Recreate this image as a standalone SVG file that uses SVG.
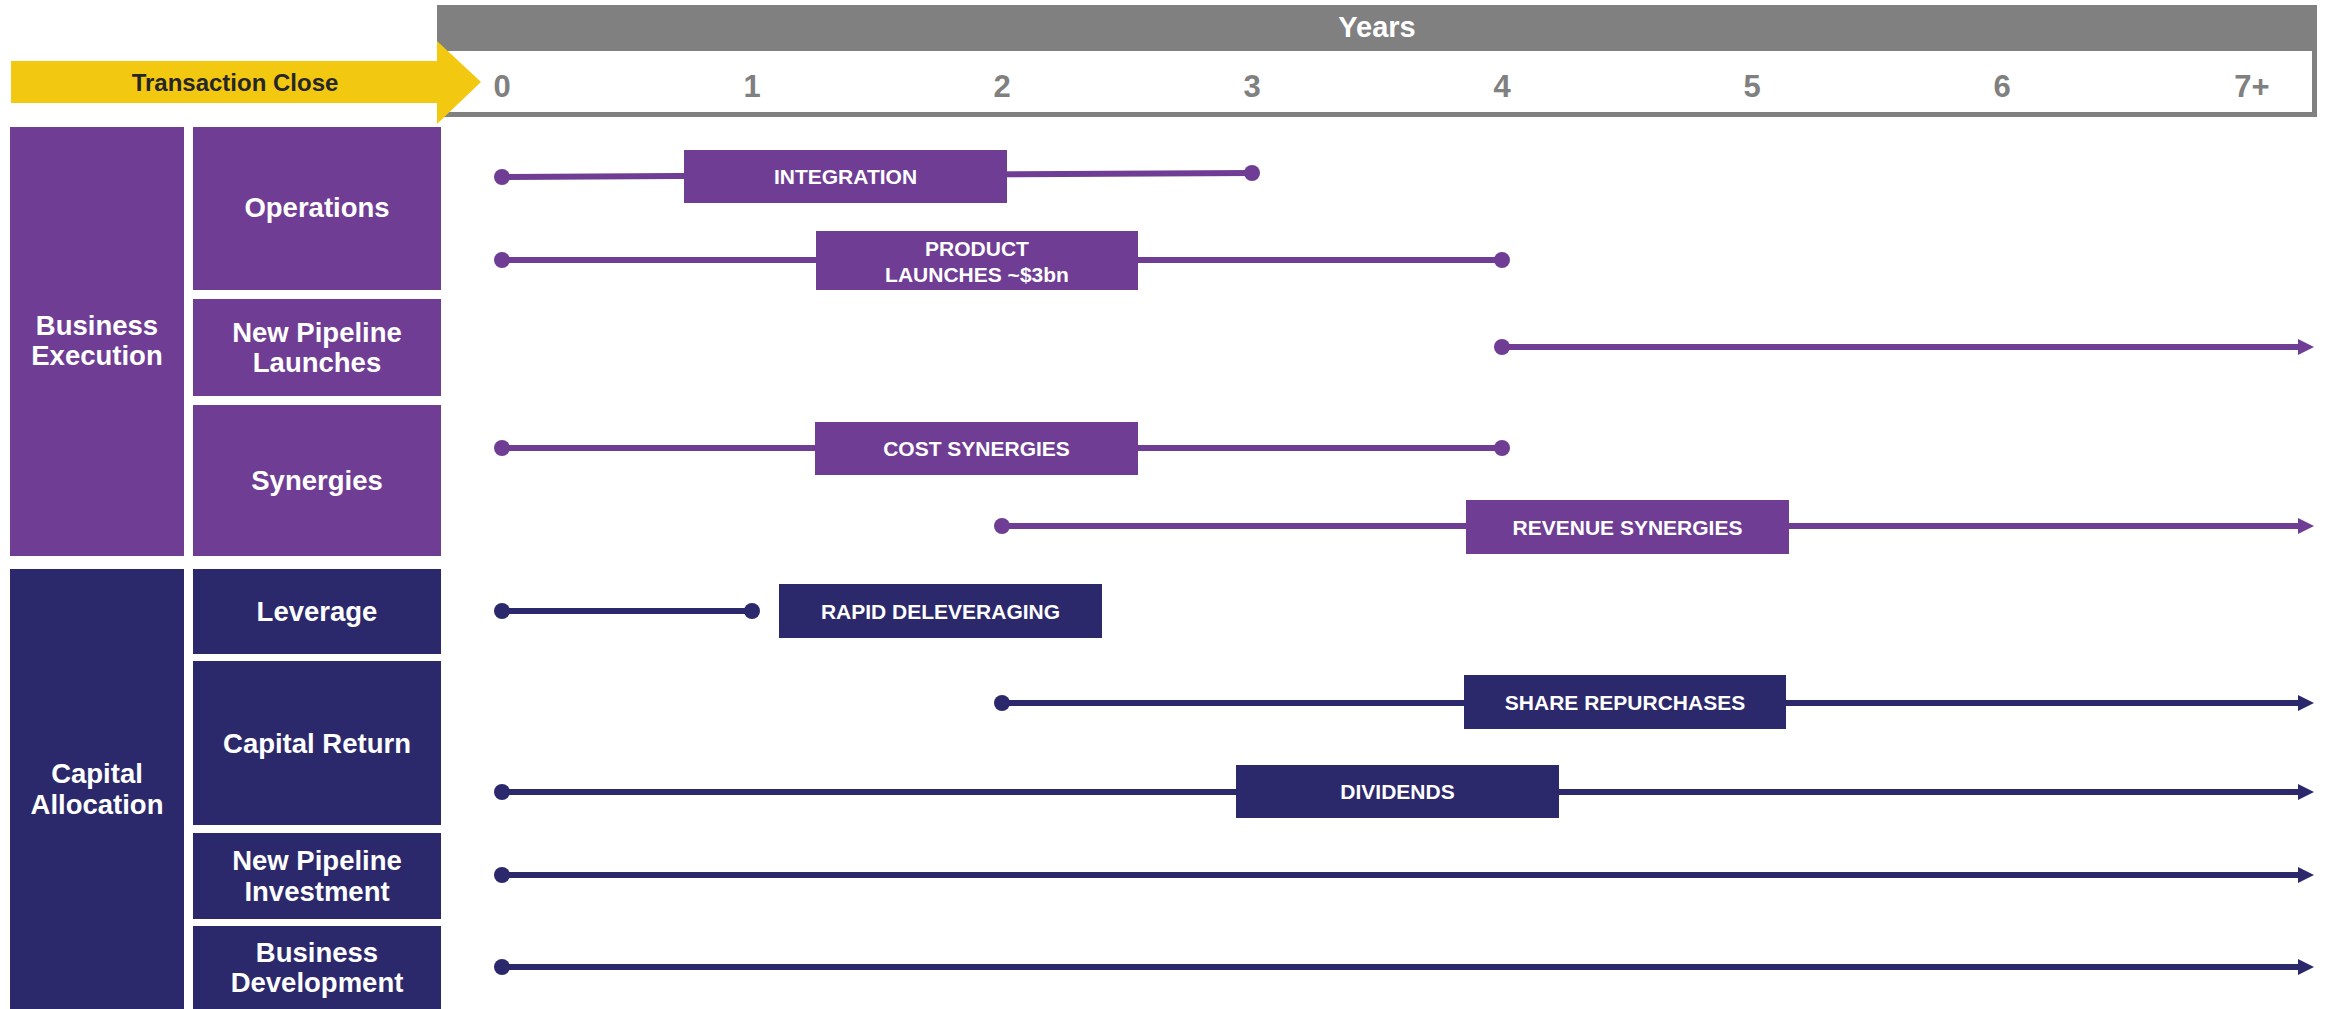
<svg xmlns="http://www.w3.org/2000/svg" width="2329" height="1009" viewBox="0 0 2329 1009">
<style>
  text { font-family: "Liberation Sans", Arial, sans-serif; font-weight: bold; text-anchor: middle; }
  .lbl { fill: #FFFFFF; font-size: 27.5px; }
  .bar { fill: #FFFFFF; font-size: 21px; }
  .yr { fill: #808080; font-size: 31px; }
  .p { fill: #6F3D94; }
  .n { fill: #2B286C; }
  .lp { stroke: #6F3D94; stroke-width: 6; fill: none; }
  .ln { stroke: #2B286C; stroke-width: 6; fill: none; }
</style>
<defs>
  <marker id="dotP" markerUnits="userSpaceOnUse" markerWidth="18" markerHeight="18" refX="9" refY="9" viewBox="0 0 18 18">
    <circle cx="9" cy="9" r="8" fill="#6F3D94"/>
  </marker>
  <marker id="dotN" markerUnits="userSpaceOnUse" markerWidth="18" markerHeight="18" refX="9" refY="9" viewBox="0 0 18 18">
    <circle cx="9" cy="9" r="8" fill="#2B286C"/>
  </marker>
  <marker id="arrP" markerUnits="userSpaceOnUse" markerWidth="16" markerHeight="16" refX="0" refY="8" viewBox="0 0 16 16" orient="auto">
    <path d="M0,0 L16,8 L0,16 Z" fill="#6F3D94"/>
  </marker>
  <marker id="arrN" markerUnits="userSpaceOnUse" markerWidth="16" markerHeight="16" refX="0" refY="8" viewBox="0 0 16 16" orient="auto">
    <path d="M0,0 L16,8 L0,16 Z" fill="#2B286C"/>
  </marker>
</defs>
<rect x="0" y="0" width="2329" height="1009" fill="#FFFFFF"/>

<g id="header">
  <rect x="437" y="5" width="1880" height="112" fill="#808080"/>
  <rect x="437" y="51" width="1875" height="61" fill="#FFFFFF"/>
  <text x="1377" y="37" style="fill:#FFFFFF;font-size:29px">Years</text>
  <text class="yr" x="502" y="97">0</text>
  <text class="yr" x="752" y="97">1</text>
  <text class="yr" x="1002" y="97">2</text>
  <text class="yr" x="1252" y="97">3</text>
  <text class="yr" x="1502" y="97">4</text>
  <text class="yr" x="1752" y="97">5</text>
  <text class="yr" x="2002" y="97">6</text>
  <text class="yr" x="2252" y="97">7+</text>
</g>

<g id="transaction-close">
  <polygon points="11,61 437,61 437,41 481,82 437,124 437,103 11,103" fill="#F2C811"/>
  <text x="235" y="91" style="fill:#262626;font-size:24px">Transaction Close</text>
</g>

<g id="business-execution">
  <rect class="p" x="10" y="127" width="174" height="429"/>
  <text class="lbl" x="97" y="335">Business</text>
  <text class="lbl" x="97" y="365">Execution</text>
</g>
<g id="operations">
  <rect class="p" x="193" y="127" width="248" height="163"/>
  <text class="lbl" x="317" y="217">Operations</text>
</g>
<g id="new-pipeline-launches">
  <rect class="p" x="193" y="299" width="248" height="97"/>
  <text class="lbl" x="317" y="342">New Pipeline</text>
  <text class="lbl" x="317" y="372">Launches</text>
</g>
<g id="synergies">
  <rect class="p" x="193" y="405" width="248" height="151"/>
  <text class="lbl" x="317" y="490">Synergies</text>
</g>
<g id="capital-allocation">
  <rect class="n" x="10" y="569" width="174" height="440"/>
  <text class="lbl" x="97" y="783">Capital</text>
  <text class="lbl" x="97" y="814">Allocation</text>
</g>
<g id="leverage">
  <rect class="n" x="193" y="569" width="248" height="85"/>
  <text class="lbl" x="317" y="621">Leverage</text>
</g>
<g id="capital-return">
  <rect class="n" x="193" y="661" width="248" height="164"/>
  <text class="lbl" x="317" y="753">Capital Return</text>
</g>
<g id="new-pipeline-investment">
  <rect class="n" x="193" y="833" width="248" height="86"/>
  <text class="lbl" x="317" y="870">New Pipeline</text>
  <text class="lbl" x="317" y="901">Investment</text>
</g>
<g id="business-development">
  <rect class="n" x="193" y="926" width="248" height="83"/>
  <text class="lbl" x="317" y="962">Business</text>
  <text class="lbl" x="317" y="992">Development</text>
</g>

<g id="connectors">
  <line class="lp" x1="502" y1="177" x2="1252" y2="173" marker-start="url(#dotP)" marker-end="url(#dotP)"/>
  <line class="lp" x1="502" y1="260" x2="1502" y2="260" marker-start="url(#dotP)" marker-end="url(#dotP)"/>
  <line class="lp" x1="1502" y1="347" x2="2298" y2="347" marker-start="url(#dotP)" marker-end="url(#arrP)"/>
  <line class="lp" x1="502" y1="448" x2="1502" y2="448" marker-start="url(#dotP)" marker-end="url(#dotP)"/>
  <line class="lp" x1="1002" y1="526" x2="2298" y2="526" marker-start="url(#dotP)" marker-end="url(#arrP)"/>
  <line class="ln" x1="502" y1="611" x2="752" y2="611" marker-start="url(#dotN)" marker-end="url(#dotN)"/>
  <line class="ln" x1="1002" y1="703" x2="2298" y2="703" marker-start="url(#dotN)" marker-end="url(#arrN)"/>
  <line class="ln" x1="502" y1="792" x2="2298" y2="792" marker-start="url(#dotN)" marker-end="url(#arrN)"/>
  <line class="ln" x1="502" y1="875" x2="2298" y2="875" marker-start="url(#dotN)" marker-end="url(#arrN)"/>
  <line class="ln" x1="502" y1="967" x2="2298" y2="967" marker-start="url(#dotN)" marker-end="url(#arrN)"/>
</g>

<g id="integration">
  <rect class="p" x="684" y="150" width="323" height="53"/>
  <text class="bar" x="845.5" y="184">INTEGRATION</text>
</g>
<g id="product-launches">
  <rect class="p" x="816" y="231" width="322" height="59"/>
  <text class="bar" x="977" y="256">PRODUCT</text>
  <text class="bar" x="977" y="282">LAUNCHES ~$3bn</text>
</g>
<g id="cost-synergies">
  <rect class="p" x="815" y="422" width="323" height="53"/>
  <text class="bar" x="976.5" y="456">COST SYNERGIES</text>
</g>
<g id="revenue-synergies">
  <rect class="p" x="1466" y="500" width="323" height="54"/>
  <text class="bar" x="1627.5" y="534.5">REVENUE SYNERGIES</text>
</g>
<g id="rapid-deleveraging">
  <rect class="n" x="779" y="584" width="323" height="54"/>
  <text class="bar" x="940.5" y="619">RAPID DELEVERAGING</text>
</g>
<g id="share-repurchases">
  <rect class="n" x="1464" y="675" width="322" height="54"/>
  <text class="bar" x="1625" y="710">SHARE REPURCHASES</text>
</g>
<g id="dividends">
  <rect class="n" x="1236" y="765" width="323" height="53"/>
  <text class="bar" x="1397.5" y="799">DIVIDENDS</text>
</g>
</svg>
